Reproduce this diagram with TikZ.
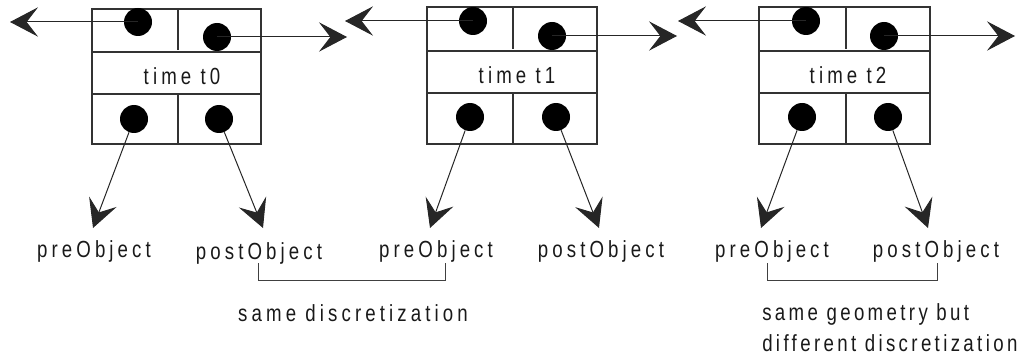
\documentclass[tikz,border=0pt]{standalone}
\usepackage{fontspec}
\usepackage{graphicx}
\setmainfont{Liberation Sans}
\newfontfamily\spfont[LetterSpace=22]{Liberation Sans}
\newfontfamily\spfontb[LetterSpace=18]{Liberation Sans}
\newcommand{\tallt}[1]{\scalebox{1}[1.25]{#1}}
\usetikzlibrary{arrows.meta}
\begin{document}
\begin{tikzpicture}[x=0.75pt,y=-0.75pt,
  boxline/.style={draw=black!80,line width=0.8pt},
  dot/.style={circle,fill=black,inner sep=0pt,minimum size=21pt},
  arr/.style={draw=black!85,line width=0.75pt,-{Stealth[length=21pt,width=22pt,inset=8.5pt]}},
  lbl/.style={font=\spfont\fontsize{14pt}{17pt}\selectfont,text=black!90,inner sep=0pt},
  lblb/.style={font=\spfontb\fontsize{14pt}{17pt}\selectfont,text=black!90,inner sep=0pt},
  brk/.style={draw=black!75,line width=0.7pt}]
\useasboundingbox (0,0) rectangle (1027,356);
% ---- box t0
\draw[boxline] (92,9) rectangle (261,144);
\draw[boxline] (92,52) -- (261,52) (92,94) -- (261,94) (178,9) -- (178,50) (178,94) -- (178,144);
\node[lbl] (t0) at (182,76) {\tallt{time t0}};
\node[dot] (a0) at (138,22) {};
\node[dot] (b0) at (217,37) {};
\node[dot] (c0) at (134,119) {};
\node[dot] (d0) at (219,119) {};
% ---- box t1
\draw[boxline] (427,7) rectangle (597,144);
\draw[boxline] (427,51) -- (597,51) (427,93) -- (597,93) (513,7) -- (513,49) (513,93) -- (513,144);
\node[lbl] (t1) at (517,75) {\tallt{time t1}};
\node[dot] (a1) at (473,21) {};
\node[dot] (b1) at (552,36) {};
\node[dot] (c1) at (470,117) {};
\node[dot] (d1) at (556,117) {};
% ---- box t2
\draw[boxline] (759,7) rectangle (930,144);
\draw[boxline] (759,51) -- (930,51) (759,93) -- (930,93) (846,7) -- (846,49) (846,93) -- (846,144);
\node[lbl] (t2) at (848,75) {\tallt{time t2}};
\node[dot] (a2) at (806,21) {};
\node[dot] (b2) at (884,36) {};
\node[dot] (c2) at (802,117) {};
\node[dot] (d2) at (888,117) {};
% ---- free ends
\coordinate (la0) at (10,22);
\coordinate (ra0) at (347,37);
\coordinate (la1) at (345,21);
\coordinate (ra1) at (677,36);
\coordinate (la2) at (678,21);
\coordinate (ra2) at (1015,36);
\coordinate (pc0) at (93,228);
\coordinate (pd0) at (263,228);
\coordinate (pc1) at (430,228);
\coordinate (pd1) at (599,228);
\coordinate (pc2) at (761,228);
\coordinate (pd2) at (928,228);
% ---- connectors
\draw[arr] (a0.center) -- (la0);
\draw[arr] (b0.center) -- (ra0);
\draw[arr] (a1.center) -- (la1);
\draw[arr] (b1.center) -- (ra1);
\draw[arr] (a2.center) -- (la2);
\draw[arr] (b2.center) -- (ra2);
\draw[arr] (c0) -- (pc0);
\draw[arr] (d0) -- (pd0);
\draw[arr] (c1) -- (pc1);
\draw[arr] (d1) -- (pd1);
\draw[arr] (c2) -- (pc2);
\draw[arr] (d2) -- (pd2);
% ---- labels
\node[lbl,anchor=base] (o1) at (94,257) {\tallt{preObject}};
\node[lbl,anchor=base] (o2) at (259,259) {\tallt{postObject}};
\node[lbl,anchor=base] (o3) at (436,257) {\tallt{preObject}};
\node[lbl,anchor=base] (o4) at (601,257) {\tallt{postObject}};
\node[lbl,anchor=base] (o5) at (772,257) {\tallt{preObject}};
\node[lbl,anchor=base] (o6) at (936,257) {\tallt{postObject}};
% ---- brackets
\coordinate (k1) at (258,263);
\coordinate (k2) at (445,263);
\coordinate (k3) at (767,263);
\coordinate (k4) at (937,263);
\draw[brk] (k1) -- ++(0,17) -| (k2);
\draw[brk] (k3) -- ++(0,17) -| (k4);
\node[lbl,anchor=base] (s1) at (353,321) {\tallt{same discretization}};
\node[lblb,anchor=base west] (s2) at (762,320) {\tallt{same geometry but}};
\node[lblb,anchor=base west] (s3) at (762,351) {\tallt{different discretization}};
\end{tikzpicture}
\end{document}
